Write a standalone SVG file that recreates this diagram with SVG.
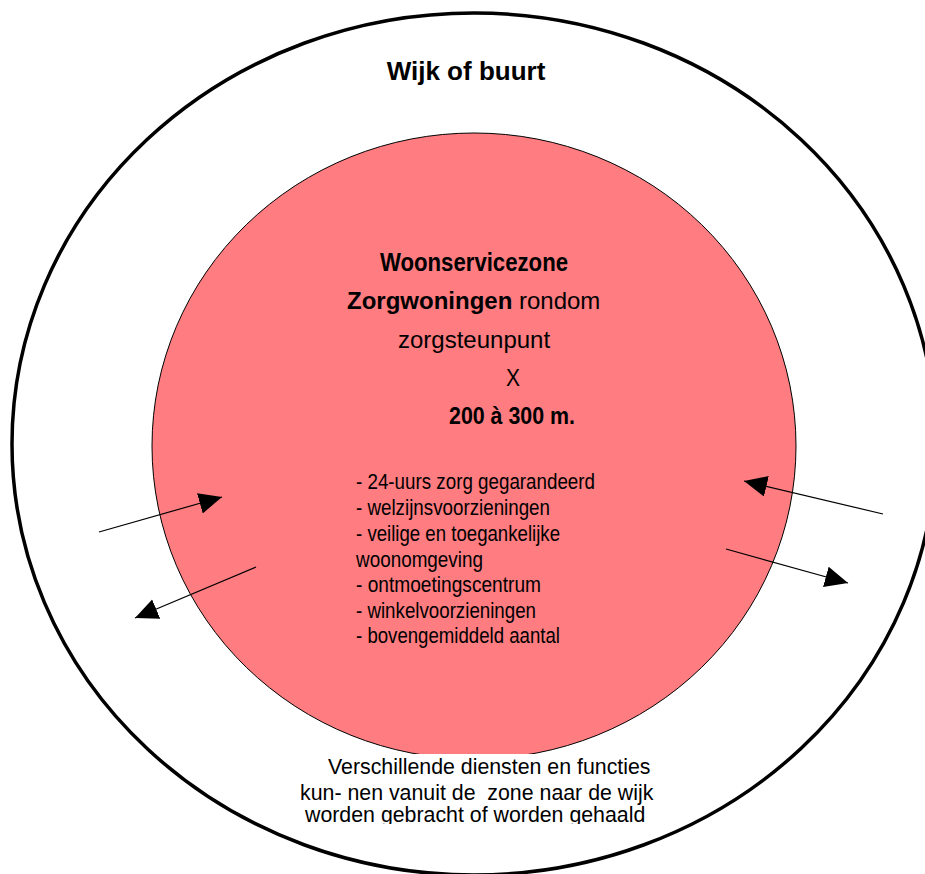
<svg xmlns="http://www.w3.org/2000/svg" width="925" height="874" viewBox="0 0 925 874">
<style>
text{font-family:"Liberation Sans",Arial,Helvetica,sans-serif;fill:#000}
.b{font-weight:bold}
.list{font-size:21.5px}
.cap{font-size:21.33px}
.conn{stroke:#000;stroke-width:1.2;fill:none;marker-end:url(#ah)}
</style>
<defs>
<marker id="ah" markerUnits="userSpaceOnUse" markerWidth="24" markerHeight="22" refX="23" refY="10.5" orient="auto">
<path d="M0,0 L23,10.5 L0,21 Z" fill="#000"/>
</marker>
<clipPath id="capclip"><rect x="280" y="750" width="400" height="74"/></clipPath>
</defs>
<rect width="925" height="874" fill="#fff"/>
<g id="wijk">
<ellipse cx="474" cy="444" rx="462" ry="431" fill="#fff" stroke="#000" stroke-width="3.5"/>
<text class="b" x="466" y="80" font-size="26" text-anchor="middle">Wijk of buurt</text>
</g>
<g id="woonservicezone">
<ellipse cx="474" cy="446" rx="322" ry="313" fill="#ff7c80" stroke="#000" stroke-width="1"/>
<text class="b" x="380" y="271" font-size="25.5" textLength="188" lengthAdjust="spacingAndGlyphs">Woonservicezone</text>
<text x="347" y="309" font-size="24"><tspan class="b">Zorgwoningen</tspan> rondom</text>
<text x="398" y="348" font-size="24">zorgsteunpunt</text>
<text x="506" y="386" font-size="24" textLength="14" lengthAdjust="spacingAndGlyphs">X</text>
<text class="b" x="449" y="424" font-size="23" textLength="126" lengthAdjust="spacingAndGlyphs">200 à 300 m.</text>
<text class="list" x="356" y="489" textLength="239" lengthAdjust="spacingAndGlyphs">- 24-uurs zorg gegarandeerd</text>
<text class="list" x="356" y="515" textLength="194" lengthAdjust="spacingAndGlyphs">- welzijnsvoorzieningen</text>
<text class="list" x="356" y="541" textLength="204" lengthAdjust="spacingAndGlyphs">- veilige en toegankelijke</text>
<text class="list" x="356" y="567" textLength="127" lengthAdjust="spacingAndGlyphs">woonomgeving</text>
<text class="list" x="356" y="592" textLength="185" lengthAdjust="spacingAndGlyphs">- ontmoetingscentrum</text>
<text class="list" x="356" y="618" textLength="180" lengthAdjust="spacingAndGlyphs">- winkelvoorzieningen</text>
<text class="list" x="356" y="643" textLength="204" lengthAdjust="spacingAndGlyphs">- bovengemiddeld aantal</text>
</g>
<g id="caption">
<rect x="290" y="754" width="375" height="70" fill="#fff"/>
<g clip-path="url(#capclip)">
<text class="cap" x="328" y="774">Verschillende diensten en functies</text>
<text class="cap" x="300" y="800" xml:space="preserve">kun- nen vanuit de  zone naar de wijk</text>
<text class="cap" x="305" y="822">worden gebracht of worden gehaald</text>
</g>
</g>
<g id="connectors">
<line class="conn" x1="99" y1="532" x2="222" y2="497"/>
<line class="conn" x1="256" y1="567" x2="135" y2="618"/>
<line class="conn" x1="883" y1="514" x2="744" y2="481"/>
<line class="conn" x1="726" y1="549" x2="848" y2="583"/>
</g>
</svg>
